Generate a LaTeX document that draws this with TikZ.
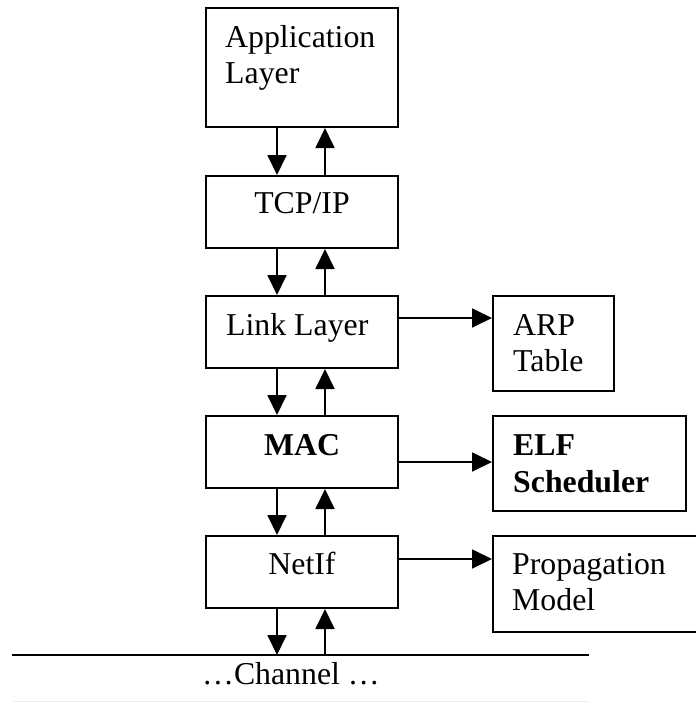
\documentclass[tikz,border=0pt]{standalone}
\usepackage{fontspec}
\setmainfont{Liberation Serif}
\usetikzlibrary{arrows.meta}
\begin{document}
\begin{tikzpicture}[x=1pt,y=-1pt,
  box/.style={draw,line width=2pt,rectangle,inner sep=0pt,anchor=north west},
  txt/.style={inner sep=0pt,font=\fontsize{31.8}{36}\selectfont,align=left},
  boldtxt/.style={inner sep=0pt,font=\fontsize{31.8}{37}\selectfont\bfseries,align=left},
  arr/.style={line width=1.8pt,-{Triangle[length=20pt,width=19pt]}}]
\useasboundingbox (0,0) rectangle (696,702);
\clip (0,0) rectangle (696,702);
% boxes
\node[box,minimum width=192pt,minimum height=119pt] (app) at (205,7) {};
\node[box,minimum width=192pt,minimum height=72pt] (tcp) at (205,175) {};
\node[box,minimum width=192pt,minimum height=72pt] (link) at (205,295) {};
\node[box,minimum width=192pt,minimum height=72pt] (mac) at (205,415) {};
\node[box,minimum width=192pt,minimum height=72pt] (netif) at (205,535) {};
\node[box,minimum width=121pt,minimum height=95pt] (arp) at (492,295) {};
\node[box,minimum width=193pt,minimum height=95pt] (elf) at (492,415) {};
\node[box,minimum width=230pt,minimum height=96pt] (prop) at (492,535) {};
% texts (base anchor of a multi-line node = last line's baseline)
\node[txt,anchor=base west] (tapp) at ([shift={(20,76)}]app.north west) {Application\\Layer};
\node[txt,anchor=base] (ttcp) at ([yshift=-38pt]tcp.north) {TCP/IP};
\node[txt,anchor=base west] (tlink) at ([shift={(21,40)}]link.north west) {Link Layer};
\node[boldtxt,anchor=base] (tmac) at ([yshift=-40pt]mac.north) {MAC};
\node[txt,anchor=base] (tnetif) at ([yshift=-39pt]netif.north) {NetIf};
\node[txt,anchor=base west] (tarp) at ([shift={(21,76)}]arp.north west) {ARP\\Table};
\node[boldtxt,anchor=base west] (telf) at ([shift={(21,77)}]elf.north west) {ELF\\Scheduler};
\node[txt,anchor=base west] (tprop) at ([shift={(20,75)}]prop.north west) {Propagation\\Model};
% channel
\coordinate (chL) at (12,655);
\coordinate (chR) at (589,655);
\draw[line width=2.2pt] (chL) -- (chR);
\node[txt,anchor=base west] (tchan) at (202,684) {…Channel …};
\coordinate (gL) at (13,701);
\coordinate (gR) at (589,701);
\draw[black!7,line width=1pt] (gL) -- (gR);
% vertical arrows
\coordinate (dx) at (277,0);
\coordinate (ux) at (325,0);
\foreach \a/\b in {app/tcp,tcp/link,link/mac,mac/netif}{
  \draw[arr] (\a.south -| dx) -- (\b.north -| dx);
  \draw[arr] (\b.north -| ux) -- (\a.south -| ux);
}
\draw[arr] (netif.south -| dx) -- (chL -| dx);
\draw[arr] (chL -| ux) -- (netif.south -| ux);
% horizontal arrows
\draw[arr] ([yshift=-23pt]link.north east) -- ([yshift=-23pt]arp.north west);
\draw[arr] ([yshift=-47pt]mac.north east) -- ([yshift=-47pt]elf.north west);
\draw[arr] ([yshift=-24pt]netif.north east) -- ([yshift=-24pt]prop.north west);
\end{tikzpicture}
\end{document}
